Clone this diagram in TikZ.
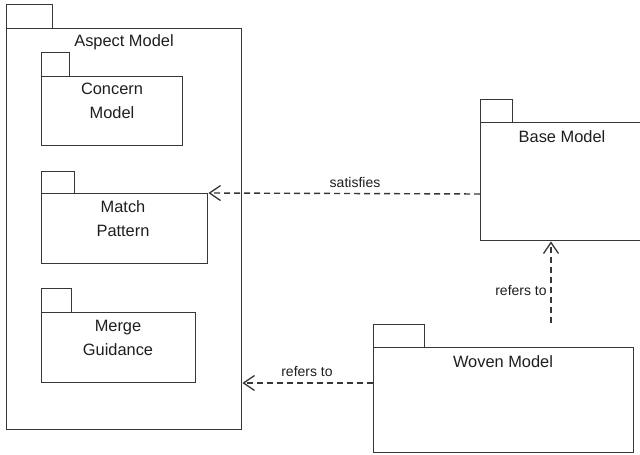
\documentclass[tikz,border=0pt]{standalone}
\usepackage{fontspec}
\setmainfont{Liberation Sans}
\usetikzlibrary{arrows.meta}
\definecolor{ink}{RGB}{55,55,55}
\definecolor{txt}{RGB}{30,30,30}
\begin{document}
\begin{tikzpicture}[x=1pt,y=-1pt,
  pkg/.style={draw=ink, line width=1.4pt, rectangle, inner sep=0pt, anchor=north west},
  title/.style={text=txt, font=\fontsize{16.4}{24}\selectfont, align=center, inner sep=0pt},
  lbl/.style={text=txt, font=\fontsize{14}{16}\selectfont, inner sep=0pt},
  dep/.style={draw=ink, line width=1.4pt, dash pattern=on 6pt off 4pt, -{Straight Barb[length=11pt,width=15pt,line width=1.3pt]}}
]
\useasboundingbox (0,0) rectangle (640,455);
% Aspect Model
\node[pkg, minimum width=46pt, minimum height=24pt] (aspecttab) at (6,4) {};
\node[pkg, minimum width=235pt, minimum height=401pt] (aspect) at (6,28) {};
\node[title] (aspectlbl) at (124,42) {Aspect Model};
% Concern Model
\node[pkg, minimum width=28pt, minimum height=24pt] (concerntab) at (41,52) {};
\node[pkg, minimum width=141pt, minimum height=69pt] (concern) at (41,76) {};
\node[title] (concernlbl) at (112,101) {Concern\\Model};
% Match Pattern
\node[pkg, minimum width=33pt, minimum height=22pt] (matchtab) at (41,171) {};
\node[pkg, minimum width=166pt, minimum height=70pt] (match) at (41,193) {};
\node[title] (matchlbl) at (123,219) {Match\\Pattern};
% Merge Guidance
\node[pkg, minimum width=30pt, minimum height=24pt] (mergetab) at (41,288) {};
\node[pkg, minimum width=154pt, minimum height=70pt] (merge) at (41,312) {};
\node[title] (mergelbl) at (118,338) {Merge\\Guidance};
% Base Model
\node[pkg, minimum width=32pt, minimum height=23pt] (basetab) at (480,99) {};
\node[pkg, minimum width=162pt, minimum height=118pt] (base) at (480,122) {};
\node[title] (baselbl) at (562,137) {Base Model};
% Woven Model
\node[pkg, minimum width=51pt, minimum height=23pt] (woventab) at (373,324) {};
\node[pkg, minimum width=260pt, minimum height=105pt] (woven) at (373,347) {};
\node[title] (wovenlbl) at (503,362) {Woven Model};
% connectors
\coordinate (satfrom) at (base.west |- 0,194);
\draw[dep] (satfrom) -- (match.north east);
\node[lbl] (satlbl) at (355,182) {satisfies};
\coordinate (upfrom) at (551,323);
\draw[dep] (upfrom) -- (base.south -| upfrom);
\node[lbl] (reflbl1) at (521,290) {refers to};
\coordinate (wfrom) at (woven.west |- 0,383);
\draw[dep] (wfrom) -- (aspect.east |- wfrom);
\node[lbl] (reflbl2) at (307,371) {refers to};
\end{tikzpicture}
\end{document}
